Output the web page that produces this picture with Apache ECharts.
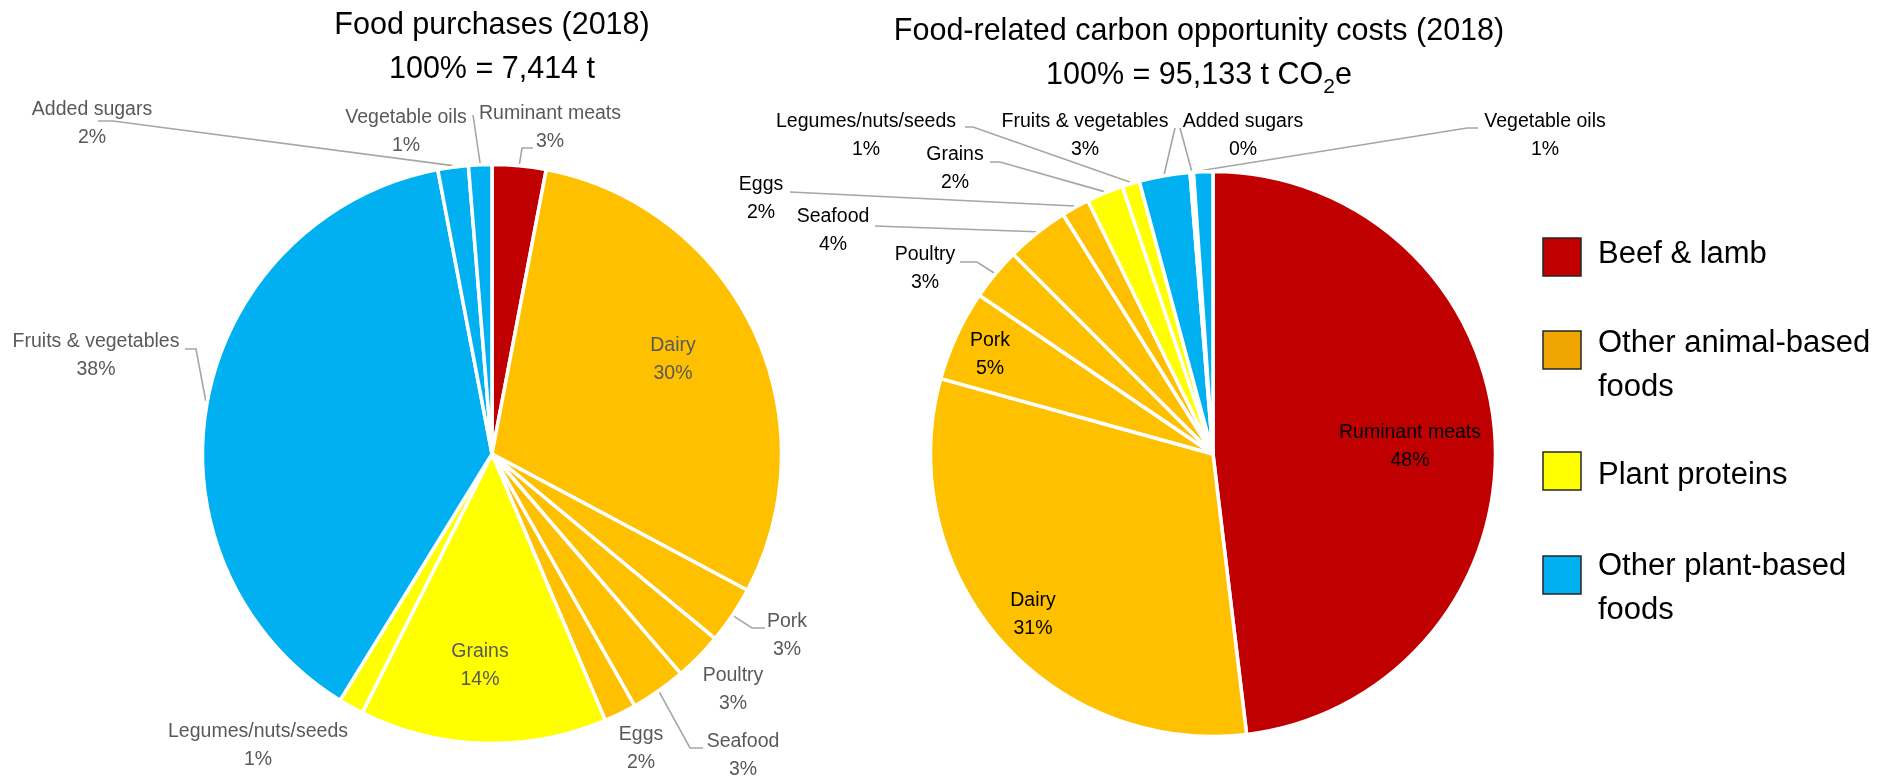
<!DOCTYPE html>
<html>
<head>
<meta charset="utf-8">
<script src="https://cdn.jsdelivr.net/npm/echarts@6/dist/echarts.min.js"></script>
<style>
  html, body { margin: 0; padding: 0; background: #ffffff; }
  #chart { width: 1887px; height: 779px; }
</style>
</head>
<body>
<div id="chart"></div>
<script>
// ---- Data ----------------------------------------------------------------
const categories = [
  'Ruminant meats', 'Dairy', 'Pork', 'Poultry', 'Seafood', 'Eggs',
  'Grains', 'Legumes/nuts/seeds', 'Fruits & vegetables', 'Added sugars', 'Vegetable oils'
];
const categoryGroups = [
  'beef', 'animal', 'animal', 'animal', 'animal', 'animal',
  'protein', 'protein', 'plant', 'plant', 'plant'
];
// share of food purchases by weight, % (100% = 7,414 t)
const purchasesShare = [3.0, 29.8, 3.2, 2.7, 3.1, 1.8, 13.8, 1.4, 38.2, 1.7, 1.3];
// share of food-related carbon opportunity costs, % (100% = 95,133 t CO2e)
const carbonShare = [48.1, 31.2, 5.2, 3.0, 3.6, 1.6, 2.1, 1.0, 2.9, 0.2, 1.1];

const groupKeys = ['beef', 'animal', 'protein', 'plant'];
const groupNames = ['Beef & lamb', 'Other animal-based\nfoods', 'Plant proteins', 'Other plant-based\nfoods'];

const purchasesTitle = ['Food purchases (2018)', '100% = 7,414 t'];
const carbonTitle = ['Food-related carbon opportunity costs (2018)', '100% = 95,133 t CO', '2', 'e'];

// ---- Styles --------------------------------------------------------------
const FONT = "'Liberation Sans', Arial, Helvetica, sans-serif";
const sliceColors = { beef: '#C00000', animal: '#FFC000', protein: '#FFFF00', plant: '#00B0F0' };
const swatchColors = { beef: '#C00000', animal: '#EFA600', protein: '#FFFF00', plant: '#00B0F0' };

// label anchors relative to each pie centre; `line` lists leader-line bends
const purchasesLabels = [
  { at: [58, -326], line: [[30, -306], [41, -306]] },
  { at: [181, -94] },
  { at: [295, 182], line: [[260, 174], [273, 174]] },
  { at: [241, 236] },
  { at: [251, 302], line: [[198, 294], [211, 294]] },
  { at: [149, 295] },
  { at: [-12, 212] },
  { at: [-234, 292] },
  { at: [-396, -98], line: [[-296, -105], [-307, -105]] },
  { at: [-400, -330], line: [[-379, -333], [-394, -333]] },
  { at: [-86, -322], line: [[-19, -339]] }
];
const carbonLabels = [
  { at: [197, -7] },
  { at: [-180, 161] },
  { at: [-223, -99] },
  { at: [-288, -185], line: [[-236, -192], [-253, -192]] },
  { at: [-380, -223], line: [[-338, -228]] },
  { at: [-452, -255], line: [[-423, -262]] },
  { at: [-258, -285], line: [[-213, -292], [-223, -292]] },
  { at: [-347, -318], line: [[-240, -327], [-248, -327]] },
  { at: [-128, -318], line: [[-38, -326]] },
  { at: [30, -318], line: [[-33, -326]] },
  { at: [332, -318], line: [[254, -326], [265, -326]] }
];

const pies = [
  { values: purchasesShare, labels: purchasesLabels, center: [492, 454], radius: 289.5, textColor: '#595959' },
  { values: carbonShare, labels: carbonLabels, center: [1213, 454], radius: 282.5, textColor: '#000000' }
];

// leader lines start on the rim at the middle of each slice
function labelLayoutFor(pie) {
  const total = pie.values.reduce((a, b) => a + b, 0);
  const midAngles = [];
  let acc = 0;
  pie.values.forEach(v => {
    midAngles.push((acc + v / 2) / total * Math.PI * 2);
    acc += v;
  });
  return function (params) {
    const i = params.dataIndex;
    const spec = pie.labels[i];
    const cx = pie.center[0], cy = pie.center[1];
    const out = {
      x: cx + spec.at[0], y: cy + spec.at[1],
      align: 'center', verticalAlign: 'middle', hideOverlap: false, moveOverlap: null
    };
    if (spec.line) {
      const a = midAngles[i];
      const R = pie.radius + 1.5;
      const pts = [[cx + R * Math.sin(a), cy - R * Math.cos(a)]];
      spec.line.forEach(p => pts.push([cx + p[0], cy + p[1]]));
      if (pts.length === 2) pts.push(pts[1].slice());
      out.labelLinePoints = pts;
    }
    return out;
  };
}

function pieSeries(pie) {
  return {
    type: 'pie',
    center: pie.center,
    radius: pie.radius,
    startAngle: 90,
    clockwise: true,
    avoidLabelOverlap: false,
    animation: false,
    silent: true,
    itemStyle: { borderColor: '#ffffff', borderWidth: 3.5 },
    label: {
      show: true,
      position: 'outside',
      color: pie.textColor,
      fontFamily: FONT,
      fontSize: 19.5,
      lineHeight: 28,
      align: 'center',
      formatter: p => p.name + '\n' + Math.round(p.value) + '%'
    },
    labelLine: {
      show: true,
      smooth: false,
      lineStyle: { color: '#A6A6A6', width: 1.6 }
    },
    labelLayout: labelLayoutFor(pie),
    data: categories.map((name, i) => ({
      name: name,
      value: pie.values[i],
      itemStyle: { color: sliceColors[categoryGroups[i]] },
      labelLine: { show: !!pie.labels[i].line }
    }))
  };
}

// ---- Legend (drawn as swatches + text) ------------------------------------
const legendSwatchTop = [238, 331, 452, 556];
const legendTextMid = [254, 365, 475, 588];
const legendGraphics = [];
groupKeys.forEach((key, i) => {
  legendGraphics.push({
    type: 'rect',
    shape: { x: 1543, y: legendSwatchTop[i], width: 38, height: 38 },
    style: { fill: swatchColors[key], stroke: '#262626', lineWidth: 1.5 }
  });
  legendGraphics.push({
    type: 'text',
    x: 1598, y: legendTextMid[i],
    style: {
      text: groupNames[i], fill: '#000000', fontFamily: FONT, fontSize: 31,
      lineHeight: 44, align: 'left', verticalAlign: 'middle',
      textAlign: 'left', textVerticalAlign: 'middle'
    }
  });
});

const titleRich = {
  t: { fontFamily: FONT, fontSize: 30.5, fontWeight: 'normal', lineHeight: 44, color: '#000000' },
  s: { fontFamily: FONT, fontSize: 21, fontWeight: 'normal', lineHeight: 16, color: '#000000', verticalAlign: 'bottom' }
};

const option = {
  backgroundColor: '#ffffff',
  title: [
    {
      text: '{t|' + purchasesTitle[0] + '}\n{t|' + purchasesTitle[1] + '}',
      left: 492, top: 4, padding: 0, textAlign: 'center',
      textStyle: { fontWeight: 'normal', rich: titleRich }
    },
    {
      text: '{t|' + carbonTitle[0] + '}\n{t|' + carbonTitle[1] + '}{s|' + carbonTitle[2] + '}{t|' + carbonTitle[3] + '}',
      left: 1199, top: 10, padding: 0, textAlign: 'center',
      textStyle: { fontWeight: 'normal', rich: titleRich }
    }
  ],
  graphic: legendGraphics,
  series: pies.map(pieSeries)
};

const chart = echarts.init(document.getElementById('chart'), null, { renderer: 'canvas' });
chart.setOption(option);
</script>
</body>
</html>
